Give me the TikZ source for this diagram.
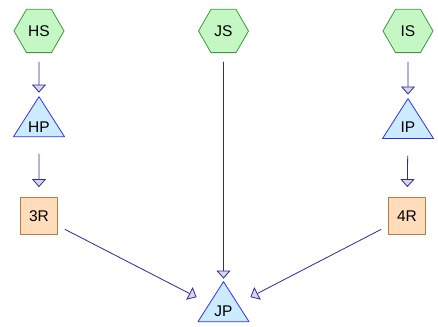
\documentclass[tikz,border=0pt]{standalone}
\usepackage{fontspec}
\setmainfont{Liberation Sans}
\usetikzlibrary{shapes.geometric,arrows.meta}

\definecolor{srcfill}{HTML}{C4F7C4}
\definecolor{srcline}{HTML}{3A9A3A}
\definecolor{prodfill}{HTML}{CDEBFF}
\definecolor{prodline}{HTML}{3030F0}
\definecolor{resfill}{HTML}{FFDDBA}
\definecolor{resline}{HTML}{B87A40}
\definecolor{linkline}{HTML}{2A2A9A}
\definecolor{tipfill}{HTML}{D8D8E4}

\tikzset{
  src/.style={regular polygon,regular polygon sides=6,minimum size=50pt,
    inner sep=0pt,draw=srcline,fill=srcfill,line width=0.8pt},
  prod/.style={isosceles triangle,isosceles triangle stretches,
    shape border rotate=90,minimum width=51pt,minimum height=40pt,
    inner sep=0pt,draw=prodline,fill=prodfill,line width=0.8pt},
  res/.style={rectangle,minimum size=37pt,inner sep=0pt,
    draw=resline,fill=resfill,line width=0.8pt},
  link/.style={draw=linkline,line width=0.8pt,
    -{Triangle[width=14pt,length=8pt,fill=tipfill]}}
}

\begin{document}
\begin{tikzpicture}[x=1pt,y=-1pt,line cap=round,line join=round,
  font=\fontsize{15.5}{18}\selectfont]
  \useasboundingbox (0,0) rectangle (438,326);

  % Sources
  \node[src] (HS) at (39,31) {HS};
  \node[src] (JS) at (223.5,31) {JS};
  \node[src] (IS) at (408,31) {IS};

  % Products
  \node[prod] (HP) at (39,127) {HP};
  \node[prod] (IP) at (408,127) {IP};
  \node[prod] (JP) at (223.5,311) {JP};

  % Reactions
  \node[res] (3R) at (39,216) {3R};
  \node[res] (4R) at (407,216) {4R};

  % Links
  \draw[link,shorten <=9pt,shorten >=3pt] (HS) -- (HP);
  \draw[link,shorten <=9pt,shorten >=3pt] (IS) -- (IP);
  \draw[link,shorten <=9pt,shorten >=2pt] (JS) -- (JP);
  \draw[link,shorten <=17pt,shorten >=10pt] (HP) -- (3R);
  \draw[link,shorten <=17pt,shorten >=10pt] (IP) -- (4R);
  \draw[link,shorten <=8pt,shorten >=14pt] (3R) -- (JP);
  \draw[link,shorten <=8pt,shorten >=14pt] (4R) -- (JP);
\end{tikzpicture}
\end{document}
